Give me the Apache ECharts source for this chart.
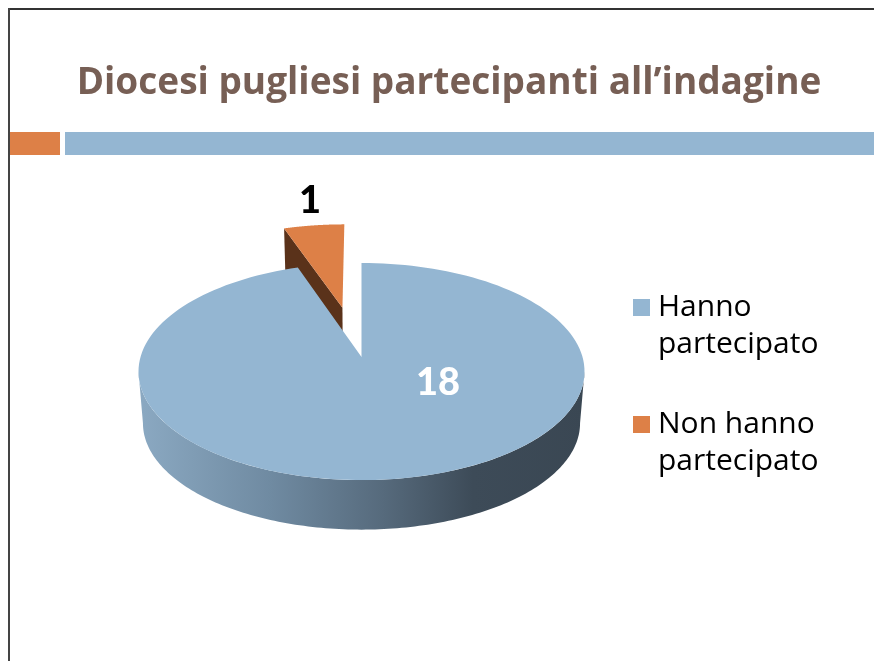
<!DOCTYPE html>
<html>
<head>
<meta charset="utf-8">
<title>Diocesi pugliesi</title>
<script src="https://cdn.jsdelivr.net/npm/echarts@6/dist/echarts.min.js"></script>
<style>
html,body{margin:0;padding:0;background:#fff;}
#chart{width:874px;height:661px;}
</style>
</head>
<body>
<div id="chart"></div>
<script>
//dati
var categories = ['Hanno partecipato', 'Non hanno partecipato'];
var values = [18, 1];
var wrappedNames = ['Hanno\npartecipato', 'Non hanno\npartecipato'];
var sliceColors = ['#94b6d2', '#dd8047'];

//geometria della torta in prospettiva
var cx = 361.5, cy = 357, ax = 221, ay = 106.6, persp = 0.134;
var depth = 52, bottomScale = 0.98;
var explode = [0, 0.5];
var explodeX = [0, -2];
var labelPos = [[438, 383], [312, 201]];
var labelColors = ['#ffffff', '#000000'];

var total = values[0] + values[1];

//proietta un punto del disco sullo schermo
function project(u, v, low){
	var den = 1 + persp * v;
	var s = low ? bottomScale : 1;
	return [cx + s * ax * u / den, cy + (low ? depth : 0) - s * ay * v / den];
}

function sliceRange(idx){
	var start = 0;
	for(var i = 0; i < idx; i++){
		start += values[i];
	}
	return [start / total * Math.PI * 2, (start + values[idx]) / total * Math.PI * 2];
}

function renderSlice(idx){
	var range = sliceRange(idx);
	var a0 = range[0], a1 = range[1];
	var mid = (a0 + a1) / 2;
	var ou = Math.sin(mid) * explode[idx];
	var ov = Math.cos(mid) * explode[idx];
	var top = [project(ou, ov, false)];
	var n = 160;
	for(var i = 0; i <= n; i++){
		var t = a0 + (a1 - a0) * i / n;
		top.push(project(ou + Math.sin(t), ov + Math.cos(t), false));
	}
	var children = [];
	if(idx === 0){
		//fianco anteriore: solo la parte visibile dell'arco
		var t0 = Math.PI - Math.acos(persp);
		var t1 = Math.PI + Math.acos(persp);
		var upper = [], lower = [];
		for(var j = 0; j <= n; j++){
			var s = t0 + (t1 - t0) * j / n;
			upper.push(project(Math.sin(s), Math.cos(s), false));
			lower.unshift(project(Math.sin(s), Math.cos(s), true));
		}
		children.push({
			type: 'polygon',
			shape: {points: upper.concat(lower)},
			style: {
				fill: new echarts.graphic.LinearGradient(0, 0, 1, 0, [
					{offset: 0, color: '#8ba9c2'},
					{offset: 0.3, color: '#6f8aa1'},
					{offset: 0.55, color: '#566a7c'},
					{offset: 0.75, color: '#3d4b58'},
					{offset: 1, color: '#3a4753'}
				])
			}
		});
	}else{
		//parete del taglio verso sinistra
		var wallA = project(ou, ov, false);
		var wallB = project(ou + Math.sin(a0), ov + Math.cos(a0), false);
		var wallC = project(ou + Math.sin(a0), ov + Math.cos(a0), true);
		var wallD = project(ou, ov, true);
		children.push({
			type: 'polygon',
			shape: {points: [wallA, wallB, wallC, wallD]},
			style: {fill: '#5a321a'}
		});
	}
	children.push({
		type: 'polygon',
		shape: {points: top},
		style: {fill: sliceColors[idx]}
	});
	children.push({
		type: 'text',
		style: {
			text: String(values[idx]),
			x: labelPos[idx][0],
			y: labelPos[idx][1],
			align: 'center',
			verticalAlign: 'middle',
			fill: labelColors[idx],
			font: '900 38px Lato'
		}
	});
	return {type: 'group', x: explodeX[idx], children: children};
}

function makeSeries(idx){
	return {
		name: categories[idx],
		type: 'custom',
		coordinateSystem: 'none',
		itemStyle: {color: sliceColors[idx]},
		data: [[values[idx]]],
		renderItem: function(){
			return renderSlice(idx);
		}
	};
}

var myChart = echarts.init(document.getElementById('chart'), null, {renderer: 'canvas'});
var option = {
	animation: false,
	backgroundColor: '#ffffff',
	title: {
		text: 'Diocesi pugliesi partecipanti all\u2019indagine',
		left: 444,
		top: 60,
		textAlign: 'center',
		textStyle: {
			color: '#775f55',
			fontFamily: 'Open Sans',
			fontWeight: 'bold',
			fontSize: 37
		}
	},
	legend: {
		orient: 'vertical',
		left: 628,
		top: 247,
		icon: 'rect',
		itemWidth: 17,
		itemHeight: 17,
		itemGap: 6,
		selectedMode: false,
		data: categories,
		formatter: function(name){
			//riga vuota: il quadratino resta allineato alla prima riga
			return '\n' + wrappedNames[categories.indexOf(name)];
		},
		textStyle: {
			color: '#000000',
			fontFamily: 'Open Sans',
			fontSize: 30,
			lineHeight: 37,
			padding: [0, 0, 0, 3]
		}
	},
	graphic: [
		{type: 'rect', shape: {x: 9, y: 132, width: 51, height: 23}, style: {fill: '#dd8047'}},
		{type: 'rect', shape: {x: 65, y: 132, width: 809, height: 23}, style: {fill: '#94b6d2'}},
		{type: 'rect', shape: {x: 8, y: 8, width: 866, height: 2}, style: {fill: '#333333'}},
		{type: 'rect', shape: {x: 8, y: 8, width: 2, height: 653}, style: {fill: '#444444'}}
	],
	series: [makeSeries(1), makeSeries(0)]
};
myChart.setOption(option);
</script>
</body>
</html>
